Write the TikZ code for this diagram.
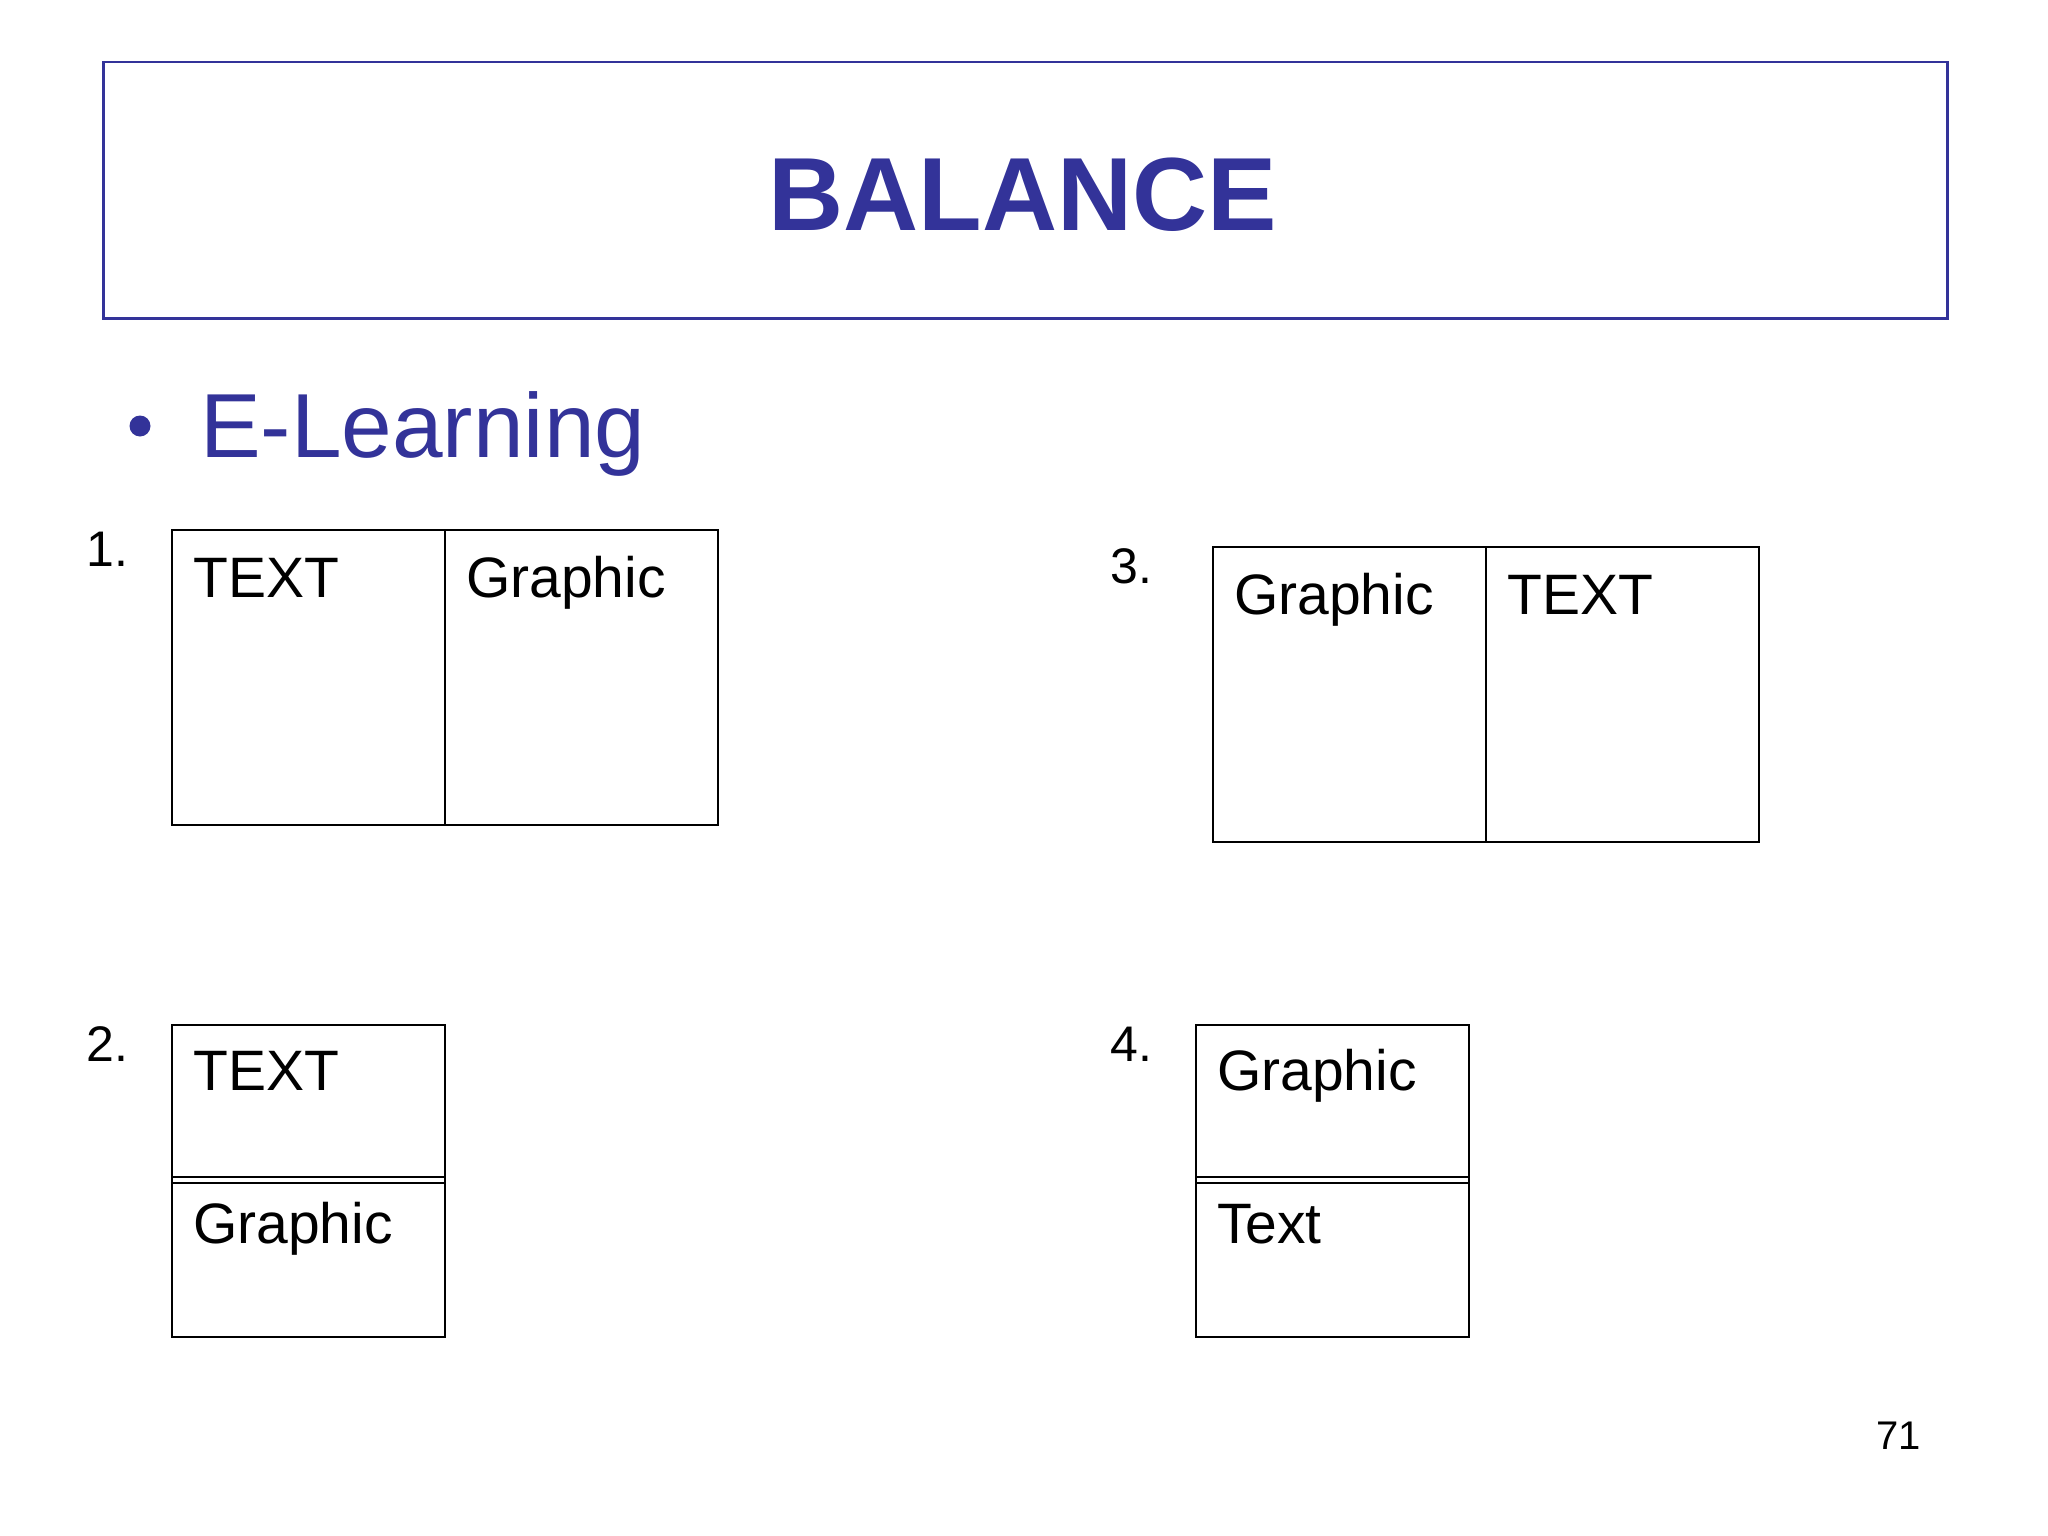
\documentclass[tikz,border=0pt]{standalone}
\usepackage{fontspec}
\setmainfont{Liberation Sans}
\definecolor{ttl}{HTML}{333399}
\tikzset{
  cell/.style={draw=black, line width=2pt, inner sep=0pt, anchor=north west},
  lbl/.style={inner sep=0pt, anchor=base west, font=\fontsize{57}{66}\selectfont, text=black},
  num/.style={inner sep=0pt, anchor=base west, font=\fontsize{50}{60}\selectfont, text=black},
  sep/.style={draw=black, line width=2pt}
}
\begin{document}
\begin{tikzpicture}[x=1pt,y=-1pt]
\useasboundingbox (0,0) rectangle (2048,1536);
% title
\node[draw=ttl, line width=2.5pt, minimum width=1844pt, minimum height=256pt, anchor=north west, inner sep=0pt] (title) at (102,61) {};
\node[inner sep=0pt, anchor=base, text=ttl, font=\fontsize{104}{116}\selectfont\bfseries] (balance) at (1023,230) {BALANCE};
% bullet
\node[circle, fill=ttl, minimum size=21pt, inner sep=0pt] (bullet) at (140,426) {};
\node[inner sep=0pt, anchor=base west, text=ttl, font=\fontsize{91}{100}\selectfont] (elearn) at (200,457) {E-Learning};
% 1.
\node[num] (n1) at (86,566) {1.};
\node[cell, minimum width=273pt, minimum height=295pt] (b1a) at (171,529) {};
\node[cell, minimum width=273pt, minimum height=295pt] (b1b) at (444,529) {};
\node[lbl] (t1a) at (193,597) {TEXT};
\node[lbl] (t1b) at (466,597) {Graphic};
% 3.
\node[num] (n3) at (1110,583) {3.};
\node[cell, minimum width=273pt, minimum height=295pt] (b3a) at (1212,546) {};
\node[cell, minimum width=273pt, minimum height=295pt] (b3b) at (1485,546) {};
\node[lbl] (t3a) at (1234,614) {Graphic};
\node[lbl] (t3b) at (1507,614) {TEXT};
% 2.
\node[num] (n2) at (86,1061) {2.};
\node[cell, minimum width=273pt, minimum height=312pt] (b2) at (171,1024) {};
\coordinate (b2l1) at (171,1177); \coordinate (b2r1) at (444,1177);
\coordinate (b2l2) at (171,1183); \coordinate (b2r2) at (444,1183);
\draw[sep] (b2l1) -- (b2r1);
\draw[sep] (b2l2) -- (b2r2);
\node[lbl] (t2a) at (193,1090) {TEXT};
\node[lbl] (t2b) at (193,1243) {Graphic};
% 4.
\node[num] (n4) at (1110,1061) {4.};
\node[cell, minimum width=273pt, minimum height=312pt] (b4) at (1195,1024) {};
\coordinate (b4l1) at (1195,1177); \coordinate (b4r1) at (1468,1177);
\coordinate (b4l2) at (1195,1183); \coordinate (b4r2) at (1468,1183);
\draw[sep] (b4l1) -- (b4r1);
\draw[sep] (b4l2) -- (b4r2);
\node[lbl] (t4a) at (1217,1090) {Graphic};
\node[lbl] (t4b) at (1217,1243) {Text};
% page number
\node[inner sep=0pt, anchor=base east, font=\fontsize{40}{48}\selectfont] (pg) at (1921,1449) {71};
\end{tikzpicture}
\end{document}
